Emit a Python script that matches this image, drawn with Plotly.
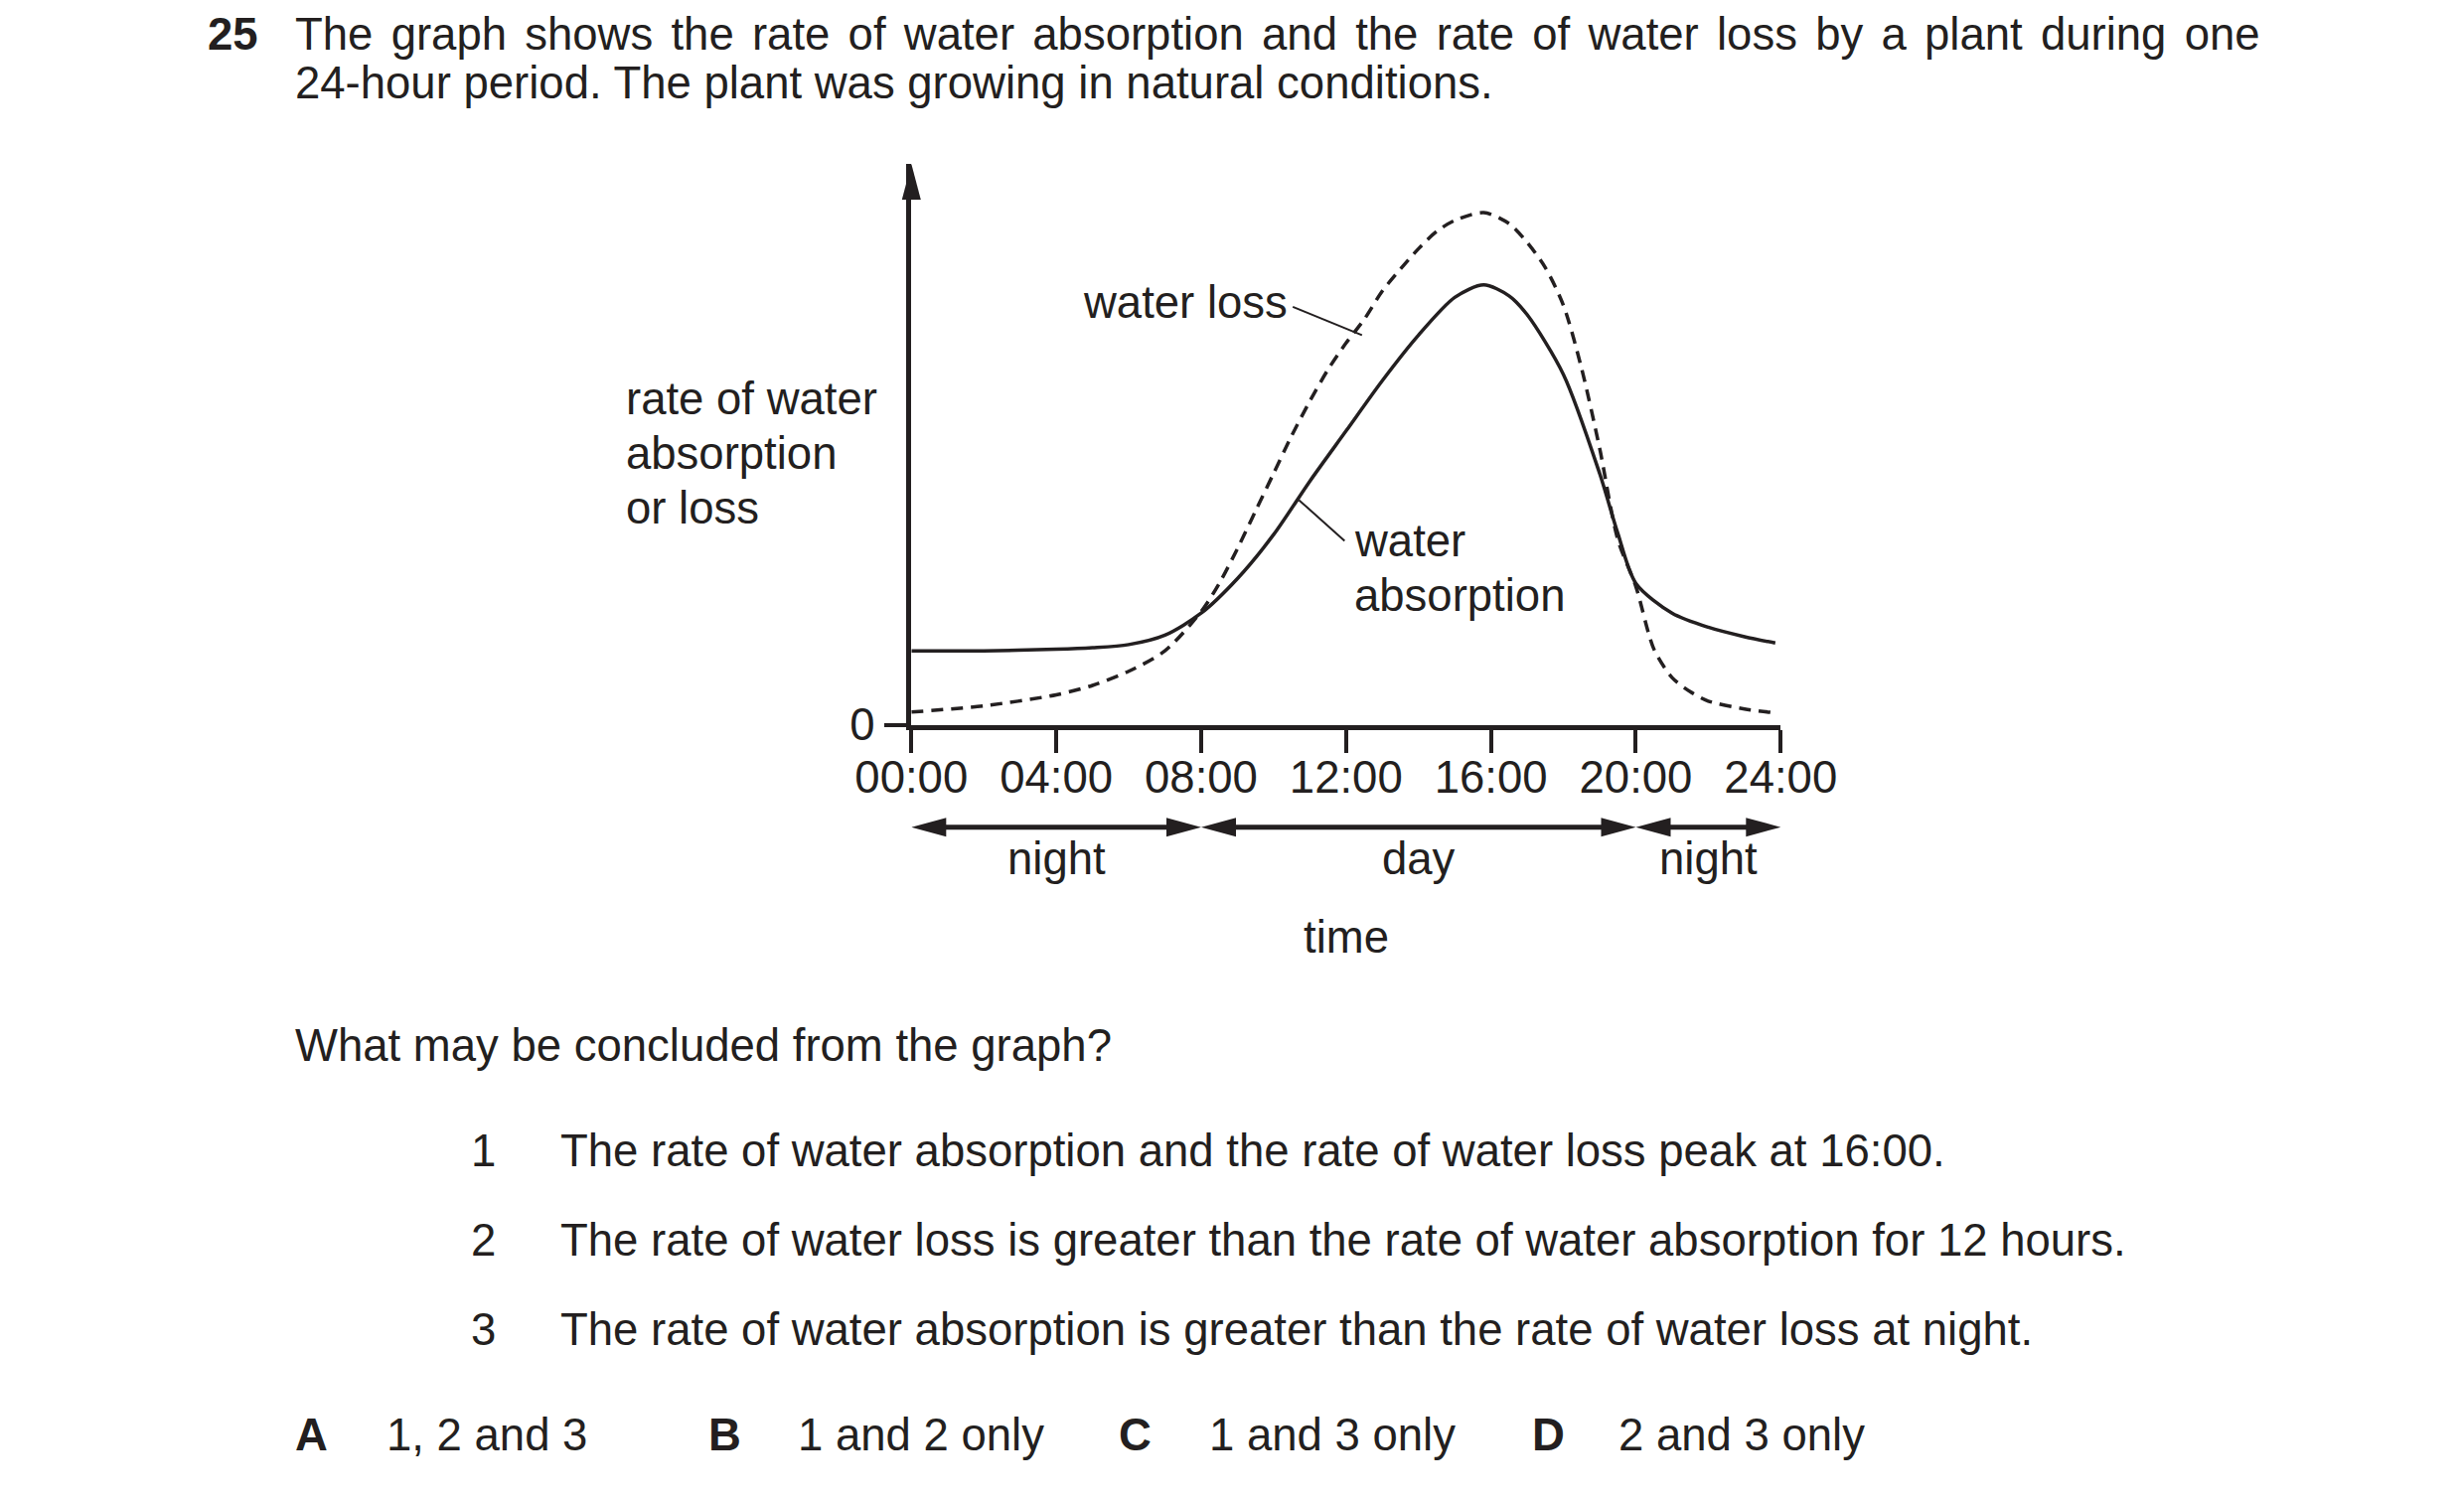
import plotly.graph_objects as go

W, H = 2480, 1509
SX, SY = 1.585, 1.58   # reference layout was measured on a ~1565 px wide copy
OFF = 8                # the page body adds an 8 px margin
INK = "#231f20"
FONT = "Liberation Sans, Arial, sans-serif"
FS = 45.5

# rate of water absorption (solid) and water loss (dashed), arbitrary units
abs_hours = [0, 2, 4, 5, 6, 7, 8, 9, 10, 11, 12, 13, 14, 15, 15.8, 16.5, 17, 18, 19, 19.5, 20, 21, 22, 23, 23.85]
abs_rate = [47, 47, 48, 49, 51, 57, 71, 93, 121, 155, 187, 219, 248, 272, 280, 273, 261, 223, 160, 122, 90, 71, 62, 56, 52]

loss_hours = [0, 2, 4, 5, 6, 7, 8, 8.5, 9, 9.5, 10, 10.5, 11, 11.5, 12, 12.5, 13, 13.5, 14, 14.5, 15, 15.8,
              16.5, 17, 17.5, 18, 18.5, 19, 19.5, 20, 20.5, 21, 21.5, 22, 23, 23.85]
loss_rate = [8, 12, 19, 25, 34, 47, 72, 90, 112, 136, 160, 184, 206, 226, 243, 258, 276, 290, 303, 314, 321, 326,
             319, 307, 291, 267, 227, 176, 118, 88, 48, 30, 21, 15, 10, 7.5]

tick_hours = [0, 4, 8, 12, 16, 20, 24]
tick_labels = ["00:00", "04:00", "08:00", "12:00", "16:00", "20:00", "24:00"]

period_names = ["night", "day", "night"]
period_start = [0, 8, 20]
period_end = [8, 20, 24]
period_mid = [4, 14, 22]

question_no = "25"
stem = [
    "The graph shows the rate of water absorption and the rate of water loss by a plant during one",
    "24-hour period. The plant was growing in natural conditions.",
]
ylabel_lines = ["rate of water", "absorption", "or loss"]
prompt = "What may be concluded from the graph?"
statements = [
    "The rate of water absorption and the rate of water loss peak at 16:00.",
    "The rate of water loss is greater than the rate of water absorption for 12 hours.",
    "The rate of water absorption is greater than the rate of water loss at night.",
]
option_keys = ["A", "B", "C", "D"]
option_texts = ["1, 2 and 3", "1 and 2 only", "1 and 3 only", "2 and 3 only"]


def px(x):
    return (x * SX - OFF) / W


def py(y):
    return 1 - (y * SY - OFF) / H


def page_text(text, x, y, anchor="left", bold=False):
    return dict(
        text=f"<b>{text}</b>" if bold else text,
        x=px(x), y=py(y), xref="paper", yref="paper",
        xanchor=anchor, yanchor="middle", showarrow=False, borderpad=0,
        font=dict(family=FONT, size=FS, color=INK),
    )


def chart_text(text, x, y, anchor="left", yref="y"):
    return dict(
        text=text, x=x, y=y, xref="x", yref=yref,
        xanchor=anchor, yanchor="middle", showarrow=False,
        font=dict(family=FONT, size=FS, color=INK),
    )


def head(x, y, xref, yref, dx, dy, half):
    # filled triangular arrow head, tip at (x, y), sized in pixels
    if dx:
        path = f"M0,0 L{-dx},{half} L{-dx},{-half} Z"
    else:
        path = f"M0,0 L{half},{-dy} L{-half},{-dy} Z"
    return dict(
        type="path", xref=xref, yref=yref, xsizemode="pixel", ysizemode="pixel",
        xanchor=x, yanchor=y, path=path, fillcolor=INK, line=dict(width=0),
    )


x_dom = [(917.3 - OFF) / W, (1792.3 - OFF) / W]
y_dom = [1 - (729.5 - OFF) / H, 1 - (165 - OFF) / H]

fig = go.Figure()
fig.add_trace(go.Scatter(
    x=abs_hours, y=abs_rate, mode="lines", name="water absorption",
    line=dict(color=INK, width=3.5, shape="spline", smoothing=0.8),
    hoverinfo="skip", showlegend=False,
))
fig.add_trace(go.Scatter(
    x=loss_hours, y=loss_rate, mode="lines", name="water loss",
    line=dict(color=INK, width=3.5, shape="spline", smoothing=0.8, dash="12px,8px"),
    hoverinfo="skip", showlegend=False,
))

annotations = []
shapes = []

# header (first line is justified in the original); nudged down a little so
# its text box stays inside the page
annotations.append(page_text(question_no, 131, 22, bold=True))
annotations.append(page_text(f'<span style="word-spacing:5.6px">{stem[0]}</span>', 187, 22))
annotations.append(page_text(stem[1], 187, 53))

# y axis title, curve labels
for i, line in enumerate(ylabel_lines):
    annotations.append(page_text(line, 397, 254 + 35 * i))
annotations.append(chart_text("water loss", 10.44, 269, anchor="right"))
annotations.append(chart_text("water", 12.18, 117))
annotations.append(chart_text("absorption", 12.18, 82))

# leader lines from labels to curves
leaders = [
    ((10.53, 266), (12.44, 248)),
    ((10.70, 143), (11.96, 117)),
]
for p, q in leaders:
    shapes.append(dict(type="line", xref="x", yref="y", x0=p[0], y0=p[1], x1=q[0], y1=q[1],
                       line=dict(color=INK, width=2)))

# y axis arrow head
shapes.append(head(x_dom[0], y_dom[1], "paper", "paper", 0, 36, 9.5))

# night / day arrows below the time axis
arrow_y = py(527)
for name, a, b, m in zip(period_names, period_start, period_end, period_mid):
    shapes.append(dict(type="line", xref="x", yref="paper", x0=a + 0.4, x1=b - 0.4,
                       y0=arrow_y, y1=arrow_y, line=dict(color=INK, width=5)))
    shapes.append(head(b, arrow_y, "x", "paper", 35, 0, 9.5))
    shapes.append(head(a, arrow_y, "x", "paper", -35, 0, 9.5))
    annotations.append(chart_text(name, m, py(547), anchor="center", yref="paper"))
annotations.append(chart_text("time", 12, py(597), anchor="center", yref="paper"))

# question
annotations.append(page_text(prompt, 187, 666))
for i, st in enumerate(statements):
    y = 733 + 57 * i
    annotations.append(page_text(str(i + 1), 307, y, anchor="center"))
    annotations.append(page_text(st, 355, y))

key_x = [187, 449, 710, 972]
text_x = [245, 506, 767, 1027]
for k, t, kx, tx in zip(option_keys, option_texts, key_x, text_x):
    annotations.append(page_text(k, kx, 914, bold=True))
    annotations.append(page_text(t, tx, 914))

fig.update_layout(
    width=W, height=H, autosize=False,
    margin=dict(l=0, r=0, t=0, b=0, pad=0, autoexpand=False),
    paper_bgcolor="white", plot_bgcolor="white",
    annotations=annotations, shapes=shapes,
    xaxis=dict(
        domain=x_dom, range=[0, 24], automargin=False,
        showline=True, linewidth=5, linecolor=INK,
        ticks="outside", ticklen=23, tickwidth=3.5, tickcolor=INK,
        tickvals=tick_hours, ticktext=tick_labels, ticklabelstandoff=-14,
        tickfont=dict(family=FONT, size=FS, color=INK),
        showgrid=False, zeroline=False,
    ),
    yaxis=dict(
        domain=y_dom, range=[0, 357], automargin=False,
        showline=True, linewidth=4.5, linecolor=INK,
        ticks="outside", ticklen=23, tickwidth=3.5, tickcolor=INK,
        tickvals=[0], ticktext=["0"],
        tickfont=dict(family=FONT, size=FS, color=INK),
        showgrid=False, zeroline=False,
    ),
)

fig.write_html("out.html")
